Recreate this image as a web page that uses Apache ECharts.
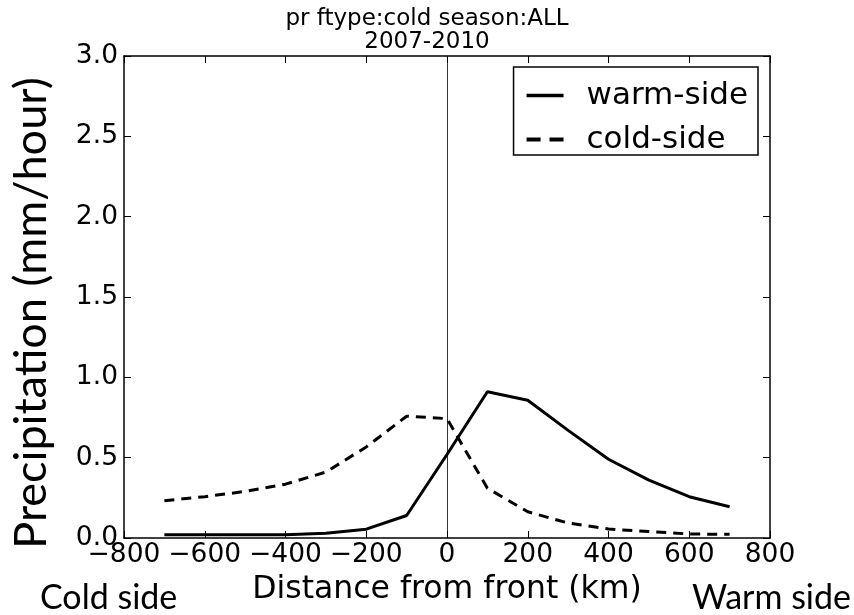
<!DOCTYPE html>
<html><head><meta charset="utf-8">
<script src="https://cdn.jsdelivr.net/npm/echarts@6/dist/echarts.min.js"></script>
<style>html,body{margin:0;padding:0;background:#fff}#c{width:854px;height:615px}</style>
</head><body><div id="c"></div>
<script>
var distances = [-700,-600,-500,-400,-300,-200,-100,0,100,200,300,400,500,600,700];
var warmSide = [0.02,0.02,0.02,0.02,0.03,0.055,0.14,0.52,0.91,0.857,0.67,0.49,0.36,0.257,0.195];
var coldSide = [0.232,0.257,0.29,0.335,0.41,0.567,0.758,0.743,0.31,0.163,0.093,0.056,0.04,0.025,0.023];
var titleLines = ['pr ftype:cold season:ALL','2007-2010'];
var seriesNames = ['warm-side','cold-side'];
var yAxisTitle = 'Precipitation (mm/hour)';
var xAxisTitle = 'Distance from front (km)';
var sideLabels = ['Cold side','Warm side'];

var chart = echarts.init(document.getElementById('c'), null, {renderer:'canvas'});
function minus(v){ return String(v).replace('-', '\u2212'); }
var F = 'DejaVu Sans';
var frameAxis = {show:true, onZero:false, lineStyle:{color:'#000', width:1.5}};
var tickIn = {show:true, inside:true, length:7, lineStyle:{color:'#000', width:1}};
function pair(a,b){ return a.map(function(x,i){return [x,b[i]];}); }
chart.setOption({
  animation:false,
  backgroundColor:'#fff',
  title:{text:titleLines.join('\n'), left:'center', top:3, itemGap:0,
    textStyle:{fontFamily:F, fontSize:23, fontWeight:'normal', color:'#000', lineHeight:23}},
  legend:{orient:'vertical', right:96, top:67, padding:[13,10,0,13], itemGap:13,
    itemWidth:37, itemHeight:5, borderColor:'#000', borderWidth:1.5, backgroundColor:'#fff',
    itemStyle:{color:'#000', borderWidth:0},
    textStyle:{fontFamily:F, fontSize:31, color:'#000', padding:[0,0,0,18]},
    data:[{name:seriesNames[0], icon:'path://M0,0H10V1H0Z'},
          {name:seriesNames[1], icon:'path://M0,0H11V3H0Z M18,0H29V3H18Z'}]},
  grid:{left:124, right:84, top:56, bottom:77},
  xAxis:[{type:'value', min:-800, max:800, interval:200, position:'bottom',
    axisLine:frameAxis, axisTick:tickIn, splitLine:{show:false},
    axisLabel:{fontFamily:F, fontSize:26.5, color:'#000', margin:4, formatter:minus},
    name:xAxisTitle, nameLocation:'middle', nameGap:34,
    nameTextStyle:{fontFamily:F, fontSize:31.5, color:'#000'}},
   {type:'value', min:-800, max:800, interval:200, position:'top',
    axisLine:frameAxis, axisTick:tickIn, splitLine:{show:false}, axisLabel:{show:false}}],
  yAxis:[{type:'value', min:0, max:3, interval:0.5, position:'left',
    axisLine:frameAxis, axisTick:tickIn, splitLine:{show:false},
    axisLabel:{fontFamily:F, fontSize:26.5, color:'#000', margin:6, formatter:function(v){return v.toFixed(1);}}},
   {type:'value', min:0, max:3, interval:0.5, position:'right',
    axisLine:frameAxis, axisTick:tickIn, splitLine:{show:false}, axisLabel:{show:false}}],
  graphic:[
    {type:'text', x:9, y:313, rotation:Math.PI/2,
      style:{text:yAxisTitle, font:'45px Lato', fill:'#000', align:'center', verticalAlign:'top'}},
    {type:'text', x:40, y:615,
      style:{text:sideLabels[0], font:'34px Lato', fill:'#000', align:'left', verticalAlign:'bottom'}},
    {type:'text', x:851, y:615,
      style:{text:sideLabels[1], font:'34px Lato', fill:'#000', align:'right', verticalAlign:'bottom'}}
  ],
  series:[
    {name:seriesNames[0], type:'line', data:pair(distances,warmSide), showSymbol:false, symbol:'none',
      lineStyle:{color:'#000', width:3}, itemStyle:{color:'#000'},
      markLine:{silent:true, symbol:'none', label:{show:false},
        lineStyle:{color:'#000', width:0.8, type:'solid'}, data:[{xAxis:0}]}},
    {name:seriesNames[1], type:'line', data:pair(distances,coldSide), showSymbol:false, symbol:'none',
      lineStyle:{color:'#000', width:3, type:[10,7]}, itemStyle:{color:'#000'}}
  ]
});
</script></body></html>
